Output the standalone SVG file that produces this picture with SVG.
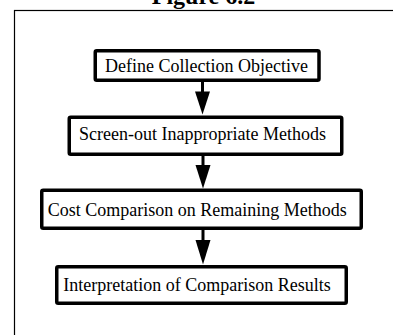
<svg xmlns="http://www.w3.org/2000/svg" width="393" height="335" viewBox="0 0 393 335">
<style>
.box{fill:#fff;stroke:#000;stroke-width:3.5}
.lbl{font-family:"Liberation Serif","Times New Roman",serif;font-size:18px;fill:#000}
.shaft{stroke:#000;stroke-width:3;fill:none}
.head{fill:#000}
</style>
<rect width="393" height="335" fill="#fff"/>
<text x="203.5" y="4" text-anchor="middle" style="font-family:'Liberation Serif','Times New Roman',serif;font-size:24px;font-weight:bold">Figure 6.2</text>
<rect x="14.5" y="10.5" width="420" height="400" fill="none" stroke="#000" stroke-width="1.2"/>
<g id="connectors">
<line class="shaft" x1="202.5" y1="82" x2="202.5" y2="93"/>
<polygon class="head" points="195,91.5 210,91.5 202.5,114.5"/>
<line class="shaft" x1="203" y1="156" x2="203" y2="166"/>
<polygon class="head" points="195.5,165 210.5,165 203,188.5"/>
<line class="shaft" x1="203" y1="230" x2="203" y2="241"/>
<polygon class="head" points="195.5,240 210.5,240 203,264.5"/>
</g>
<g id="n1">
<rect class="box" x="95.25" y="50.75" width="223.75" height="29.5" rx="1.5"/>
<text class="lbl" x="105" y="71.7">Define Collection Objective</text>
</g>
<g id="n2">
<rect class="box" x="69.25" y="117.25" width="272.5" height="37" rx="1.5"/>
<text class="lbl" x="79" y="140">Screen-out Inappropriate Methods</text>
</g>
<g id="n3">
<rect class="box" x="41.75" y="190.25" width="319.5" height="38" rx="1.5"/>
<text class="lbl" x="47.7" y="216">Cost Comparison on Remaining Methods</text>
</g>
<g id="n4">
<rect class="box" x="56.75" y="266.75" width="289.5" height="36.5" rx="1.5"/>
<text class="lbl" x="63.3" y="291">Interpretation of Comparison Results</text>
</g>
</svg>
